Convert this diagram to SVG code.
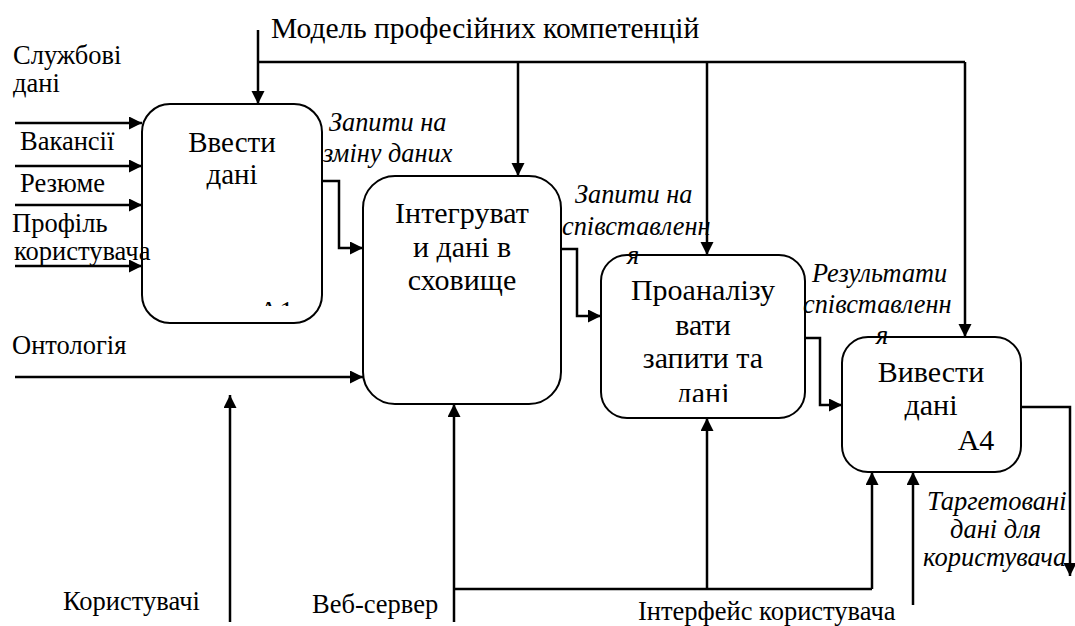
<svg xmlns="http://www.w3.org/2000/svg" width="1075" height="626" viewBox="0 0 1075 626">
<defs>
<marker id="ah" markerUnits="userSpaceOnUse" markerWidth="14" markerHeight="14" refX="13" refY="6.5" orient="auto">
<path d="M0,0 L13,6.5 L0,13 z" fill="#000"/>
</marker>
<clipPath id="clipA1"><rect x="140" y="280" width="190" height="26"/></clipPath>
<clipPath id="clipB3"><rect x="600" y="250" width="210" height="152"/></clipPath>
</defs>
<style>
.box{fill:#fff;stroke:#000;stroke-width:2}
.ln{fill:none;stroke:#000;stroke-width:2.5}
.arr{fill:none;stroke:#000;stroke-width:2.5;marker-end:url(#ah)}
</style>
<rect width="1075" height="626" fill="#fff"/>

<g id="connectors">
<line class="arr" x1="258" y1="30" x2="258" y2="104"/>
<polyline class="ln" points="258,62 965,62"/>
<line class="arr" x1="518" y1="62" x2="518" y2="176"/>
<line class="arr" x1="707" y1="62" x2="707" y2="255"/>
<line class="arr" x1="965" y1="62" x2="965" y2="337"/>
<line class="arr" x1="15" y1="123" x2="142" y2="123"/>
<line class="arr" x1="15" y1="166" x2="142" y2="166"/>
<line class="arr" x1="15" y1="205" x2="142" y2="205"/>
<line class="arr" x1="15" y1="266" x2="142" y2="266"/>
<line class="arr" x1="15" y1="377" x2="363" y2="377"/>
<polyline class="arr" points="322,181 339,181 339,248 363,248"/>
<polyline class="arr" points="561,249 577,249 577,316 601,316"/>
<polyline class="arr" points="805,338 820,338 820,405 842,405"/>
<polyline class="arr" points="1021,407 1070,407 1070,576"/>
<line class="arr" x1="230" y1="622" x2="230" y2="395"/>
<line class="arr" x1="454" y1="622" x2="454" y2="404"/>
<polyline class="ln" points="454,589 872,589"/>
<line class="arr" x1="707" y1="589" x2="707" y2="418"/>
<line class="arr" x1="872" y1="589" x2="872" y2="472"/>
<line class="arr" x1="913" y1="605" x2="913" y2="472"/>
</g>

<g id="node-a1">
<rect class="box" x="142" y="104" width="180" height="219" rx="28" ry="28"/>
<text x="232" y="152" text-anchor="middle" style="font-family:'Liberation Serif',serif;font-size:29px">Ввести</text>
<text x="232" y="184" text-anchor="middle" style="font-family:'Liberation Serif',serif;font-size:29px">дані</text>
<text x="276" y="321" text-anchor="middle" clip-path="url(#clipA1)" style="font-family:'Liberation Serif',serif;font-size:29px">А1</text>
</g>

<g id="node-a2">
<rect class="box" x="363" y="176" width="198" height="228" rx="32" ry="32"/>
<text x="462" y="223" text-anchor="middle" style="font-family:'Liberation Serif',serif;font-size:30px">Інтегруват</text>
<text x="462" y="257" text-anchor="middle" style="font-family:'Liberation Serif',serif;font-size:30px">и дані в</text>
<text x="462" y="290" text-anchor="middle" style="font-family:'Liberation Serif',serif;font-size:30px">сховище</text>
</g>

<g id="node-a3">
<rect class="box" x="601" y="255" width="204" height="163" rx="26" ry="26"/>
<g clip-path="url(#clipB3)">
<text x="703" y="300" text-anchor="middle" style="font-family:'Liberation Serif',serif;font-size:30px">Проаналізу</text>
<text x="703" y="335" text-anchor="middle" style="font-family:'Liberation Serif',serif;font-size:30px">вати</text>
<text x="703" y="368" text-anchor="middle" style="font-family:'Liberation Serif',serif;font-size:30px">запити та</text>
<text x="703" y="403" text-anchor="middle" style="font-family:'Liberation Serif',serif;font-size:30px">дані</text>
</g>
</g>

<g id="node-a4">
<rect class="box" x="842" y="337" width="179" height="135" rx="26" ry="26"/>
<text x="931" y="382" text-anchor="middle" style="font-family:'Liberation Serif',serif;font-size:30px">Вивести</text>
<text x="931" y="415" text-anchor="middle" style="font-family:'Liberation Serif',serif;font-size:30px">дані</text>
<text x="976" y="450" text-anchor="middle" style="font-family:'Liberation Serif',serif;font-size:30px">А4</text>
</g>

<g id="labels">
<text x="271" y="38" style="font-family:'Liberation Serif',serif;font-size:29.5px">Модель професійних компетенцій</text>
<text x="13" y="64" style="font-family:'Liberation Serif',serif;font-size:26.5px">Службові</text>
<text x="13" y="92" style="font-family:'Liberation Serif',serif;font-size:26.5px">дані</text>
<text x="20" y="150" style="font-family:'Liberation Serif',serif;font-size:26.5px">Вакансії</text>
<text x="20" y="192" style="font-family:'Liberation Serif',serif;font-size:26.5px">Резюме</text>
<text x="12" y="232" style="font-family:'Liberation Serif',serif;font-size:26.5px">Профіль</text>
<text x="14" y="260" style="font-family:'Liberation Serif',serif;font-size:26.5px">користувача</text>
<text x="12" y="354" style="font-family:'Liberation Serif',serif;font-size:26.5px">Онтологія</text>
<text x="63" y="610" style="font-family:'Liberation Serif',serif;font-size:26.5px">Користувачі</text>
<text x="312" y="613" style="font-family:'Liberation Serif',serif;font-size:26.5px">Веб-сервер</text>
<text x="638" y="620" style="font-family:'Liberation Serif',serif;font-size:26.5px">Інтерфейс користувача</text>
<text x="329" y="131" style="font-family:'Liberation Serif',serif;font-size:26.3px;font-style:italic">Запити на</text>
<text x="323" y="162" style="font-family:'Liberation Serif',serif;font-size:26.3px;font-style:italic">зміну даних</text>
<text x="575" y="203" style="font-family:'Liberation Serif',serif;font-size:26.3px;font-style:italic">Запити на</text>
<text x="562" y="235" style="font-family:'Liberation Serif',serif;font-size:26.3px;font-style:italic">співставленн</text>
<text x="627" y="264" style="font-family:'Liberation Serif',serif;font-size:26.3px;font-style:italic">я</text>
<text x="812" y="282" style="font-family:'Liberation Serif',serif;font-size:26.3px;font-style:italic">Результати</text>
<text x="803" y="313" style="font-family:'Liberation Serif',serif;font-size:26.3px;font-style:italic">співставленн</text>
<text x="876" y="344" style="font-family:'Liberation Serif',serif;font-size:26.3px;font-style:italic">я</text>
<text x="927" y="510" style="font-family:'Liberation Serif',serif;font-size:26.5px;font-style:italic">Таргетовані</text>
<text x="950" y="538" style="font-family:'Liberation Serif',serif;font-size:26.5px;font-style:italic">дані для</text>
<text x="923" y="566" style="font-family:'Liberation Serif',serif;font-size:26.5px;font-style:italic">користувача</text>
</g>
</svg>
